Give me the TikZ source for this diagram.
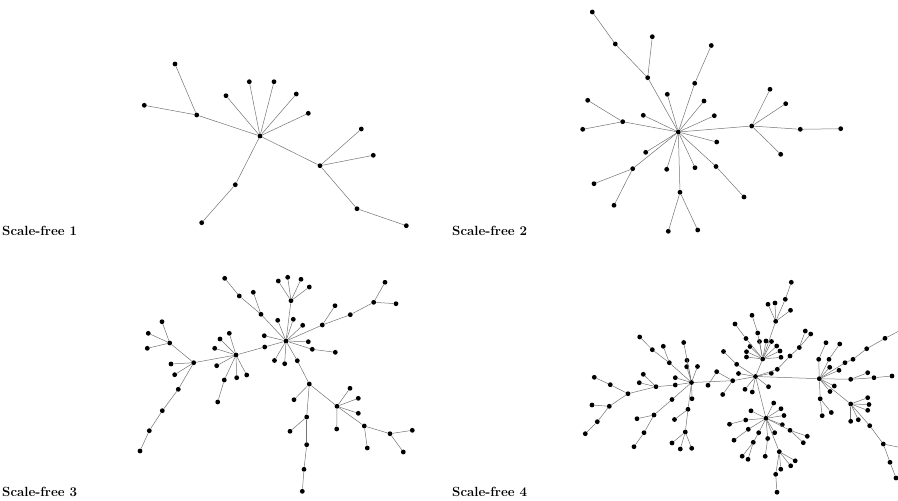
\documentclass[tikz,border=0pt]{standalone}
\begin{document}
\begin{tikzpicture}[x=1pt,y=-1pt,
  dot/.style={circle,fill=black,inner sep=0pt,minimum size=4.8pt},
  edge/.style={draw=black!55,line width=0.5pt},
  lab/.style={anchor=base west,inner sep=0pt,font=\fontsize{13.3}{16}\selectfont\bfseries}]
\useasboundingbox (0,0) rectangle (898,501);
% ---------- Scale-free 1
\node[dot] (a0) at (260,136) {};
\node[dot] (a1) at (196.7,115) {};
\node[dot] (a2) at (175,64) {};
\node[dot] (a3) at (144.3,105.3) {};
\node[dot] (a4) at (226,95.7) {};
\node[dot] (a5) at (249.3,81.7) {};
\node[dot] (a6) at (274,81.7) {};
\node[dot] (a7) at (296.3,94) {};
\node[dot] (a8) at (308.3,113.3) {};
\node[dot] (a9) at (320,165.7) {};
\node[dot] (a10) at (361.3,129) {};
\node[dot] (a11) at (373.3,155.3) {};
\node[dot] (a12) at (357,208.7) {};
\node[dot] (a13) at (406.3,225.7) {};
\node[dot] (a14) at (235.3,184.7) {};
\node[dot] (a15) at (201.7,222.7) {};
\foreach \u/\v in {a0/a1,a1/a2,a1/a3,a0/a4,a0/a5,a0/a6,a0/a7,a0/a8,a0/a9,a9/a10,a9/a11,a9/a12,a12/a13,a0/a14,a14/a15}
  \draw[edge] (\u) -- (\v);
\node[lab] (l1) at (2,235) {Scale-free 1};
% ---------- Scale-free 2
\node[dot] (b0) at (678.3,132) {};
\node[dot] (b1) at (647.7,77.7) {};
\node[dot] (b2) at (652.3,36.7) {};
\node[dot] (b3) at (615.3,44) {};
\node[dot] (b4) at (592.3,12) {};
\node[dot] (b5) at (667.3,94.3) {};
\node[dot] (b6) at (643.3,115.3) {};
\node[dot] (b7) at (622.7,121.7) {};
\node[dot] (b8) at (587.7,100.3) {};
\node[dot] (b9) at (582.7,129.3) {};
\node[dot] (b10) at (694.7,83.3) {};
\node[dot] (b11) at (711.3,45.5) {};
\node[dot] (b12) at (704,101) {};
\node[dot] (b13) at (714.3,115.7) {};
\node[dot] (b14) at (716.7,142) {};
\node[dot] (b15) at (695,167.7) {};
\node[dot] (b16) at (716,166.5) {};
\node[dot] (b17) at (744,197) {};
\node[dot] (b18) at (666.7,169.3) {};
\node[dot] (b19) at (645.7,152.3) {};
\node[dot] (b20) at (632.7,168.7) {};
\node[dot] (b21) at (594,183.7) {};
\node[dot] (b22) at (614,205.3) {};
\node[dot] (b23) at (680,192.3) {};
\node[dot] (b24) at (668.3,231.3) {};
\node[dot] (b25) at (697.7,230) {};
\node[dot] (b26) at (751.7,126) {};
\node[dot] (b27) at (770,89.3) {};
\node[dot] (b28) at (785.7,103.7) {};
\node[dot] (b29) at (780.7,154.3) {};
\node[dot] (b30) at (800.3,129.3) {};
\node[dot] (b31) at (840.7,128.7) {};
\foreach \u/\v in {b0/b1,b1/b2,b1/b3,b3/b4,b0/b5,b0/b6,b0/b7,b7/b8,b7/b9,b0/b10,b10/b11,b0/b12,b0/b13,b0/b14,b0/b15,b0/b16,b16/b17,b0/b18,b0/b19,b0/b20,b20/b21,b20/b22,b0/b23,b23/b24,b23/b25,b0/b26,b26/b27,b26/b28,b26/b29,b26/b30,b30/b31}
  \draw[edge] (\u) -- (\v);
\node[lab] (l2) at (452,235) {Scale-free 2};
% ---------- Scale-free 3
\node[dot] (c0) at (286,341) {};
\node[dot] (c1) at (291,300.7) {};
\node[dot] (c2) at (278.3,281) {};
\node[dot] (c3) at (287.7,277.3) {};
\node[dot] (c4) at (301,279.3) {};
\node[dot] (c5) at (309.3,287) {};
\node[dot] (c6) at (261,314.3) {};
\node[dot] (c7) at (239.3,296) {};
\node[dot] (c8) at (224.7,278.3) {};
\node[dot] (c9) at (253.3,292.3) {};
\node[dot] (c10) at (277.7,320.3) {};
\node[dot] (c11) at (293.3,319.3) {};
\node[dot] (c12) at (302.7,325.3) {};
\node[dot] (c13) at (308.3,341.7) {};
\node[dot] (c14) at (312.3,349.3) {};
\node[dot] (c15) at (335.3,352.3) {};
\node[dot] (c16) at (274.5,360.5) {};
\node[dot] (c17) at (284.7,363.7) {};
\node[dot] (c18) at (297.3,360.7) {};
\node[dot] (c19) at (264.3,335.7) {};
\node[dot] (c20) at (264.7,347) {};
\node[dot] (c21) at (236,355) {};
\node[dot] (c22) at (220,339) {};
\node[dot] (c23) at (229.3,333.3) {};
\node[dot] (c24) at (214.7,348.3) {};
\node[dot] (c25) at (216.7,365.7) {};
\node[dot] (c26) at (236.7,377.7) {};
\node[dot] (c27) at (246.7,375) {};
\node[dot] (c28) at (224.3,380) {};
\node[dot] (c29) at (217.7,402) {};
\node[dot] (c30) at (193.7,362.7) {};
\node[dot] (c31) at (171,364) {};
\node[dot] (c32) at (174.7,374.7) {};
\node[dot] (c33) at (178.3,389.3) {};
\node[dot] (c34) at (162.3,410.7) {};
\node[dot] (c35) at (149.3,430.7) {};
\node[dot] (c36) at (140,451) {};
\node[dot] (c37) at (169.7,343) {};
\node[dot] (c38) at (162,321.7) {};
\node[dot] (c39) at (148.3,333.3) {};
\node[dot] (c40) at (147.3,348.3) {};
\node[dot] (c41) at (322.3,325) {};
\node[dot] (c42) at (335,305.7) {};
\node[dot] (c43) at (350.3,314.7) {};
\node[dot] (c44) at (373.7,302.3) {};
\node[dot] (c45) at (385,282.3) {};
\node[dot] (c46) at (396,303.7) {};
\node[dot] (c47) at (309.3,384) {};
\node[dot] (c48) at (294,399.7) {};
\node[dot] (c49) at (306.7,417) {};
\node[dot] (c50) at (290,431.3) {};
\node[dot] (c51) at (306.7,444.7) {};
\node[dot] (c52) at (304,469.3) {};
\node[dot] (c53) at (302.3,491.3) {};
\node[dot] (c54) at (337,406.3) {};
\node[dot] (c55) at (350,388.3) {};
\node[dot] (c56) at (358.3,398.3) {};
\node[dot] (c57) at (358.3,413.3) {};
\node[dot] (c58) at (336.7,429) {};
\node[dot] (c59) at (364.3,426) {};
\node[dot] (c60) at (367.3,448) {};
\node[dot] (c61) at (390,433.7) {};
\node[dot] (c62) at (412.3,430.3) {};
\node[dot] (c63) at (403.3,452) {};
\foreach \u/\v in {c0/c1,c1/c2,c1/c3,c1/c4,c1/c5,c0/c6,c6/c7,c7/c8,c6/c9,c0/c10,c0/c11,c0/c12,c0/c13,c0/c14,c14/c15,c0/c16,c0/c17,c0/c18,c18/c47,c0/c19,c0/c20,c20/c21,c21/c22,c21/c23,c21/c24,c21/c25,c21/c26,c21/c27,c21/c28,c28/c29,c21/c30,c30/c31,c30/c32,c30/c33,c33/c34,c34/c35,c35/c36,c30/c37,c37/c38,c37/c39,c37/c40,c0/c41,c41/c42,c41/c43,c43/c44,c44/c45,c44/c46,c47/c48,c47/c49,c49/c50,c49/c51,c51/c52,c52/c53,c47/c54,c54/c55,c54/c56,c54/c57,c54/c58,c54/c59,c59/c60,c59/c61,c61/c62,c61/c63}
  \draw[edge] (\u) -- (\v);
\node[lab] (l3) at (2,496) {Scale-free 3};
% ---------- Scale-free 4
\node[dot] (d0) at (691.5,382.5) {};
\node[dot] (d1) at (594.3,377.3) {};
\node[dot] (d2) at (610.3,384.7) {};
\node[dot] (d3) at (628,393.7) {};
\node[dot] (d4) at (643.3,374.3) {};
\node[dot] (d5) at (639.3,382.7) {};
\node[dot] (d6) at (656,386.7) {};
\node[dot] (d7) at (675.3,385) {};
\node[dot] (d8) at (592,405) {};
\node[dot] (d9) at (609.3,406.3) {};
\node[dot] (d10) at (597.3,421.7) {};
\node[dot] (d11) at (585.3,433.7) {};
\node[dot] (d12) at (639.7,337) {};
\node[dot] (d13) at (652.3,349.7) {};
\node[dot] (d14) at (663.3,346.3) {};
\node[dot] (d15) at (669.3,362.7) {};
\node[dot] (d16) at (683.7,342.5) {};
\node[dot] (d17) at (687,360.3) {};
\node[dot] (d18) at (686.7,366.7) {};
\node[dot] (d19) at (697.5,366.5) {};
\node[dot] (d20) at (675.3,377.7) {};
\node[dot] (d21) at (692,398.7) {};
\node[dot] (d22) at (672,399.5) {};
\node[dot] (d23) at (654,415) {};
\node[dot] (d24) at (637,418.7) {};
\node[dot] (d25) at (644,432.7) {};
\node[dot] (d26) at (634,446.7) {};
\node[dot] (d27) at (688,409.3) {};
\node[dot] (d28) at (674.5,419.5) {};
\node[dot] (d29) at (685.3,432) {};
\node[dot] (d30) at (672,443) {};
\node[dot] (d31) at (680.3,449) {};
\node[dot] (d32) at (691.7,448.3) {};
\node[dot] (d33) at (732.7,380.7) {};
\node[dot] (d34) at (716.7,371.7) {};
\node[dot] (d35) at (708,385.3) {};
\node[dot] (d36) at (722.7,394.5) {};
\node[dot] (e0) at (755.5,376.5) {};
\node[dot] (e1) at (738.5,373.5) {};
\node[dot] (e2) at (745,389.3) {};
\node[dot] (e3) at (752.3,392) {};
\node[dot] (e4) at (768.5,386.7) {};
\node[dot] (e5) at (771.3,373.3) {};
\node[dot] (e6) at (777.3,369.3) {};
\node[dot] (e7) at (790,356) {};
\node[dot] (e8) at (799.3,347.5) {};
\node[dot] (e9) at (805.3,331) {};
\node[dot] (e10) at (810.7,334) {};
\node[dot] (e11) at (736.7,364.3) {};
\node[dot] (e12) at (723.5,351.5) {};
\node[dot] (f0) at (762.7,359) {};
\node[dot] (f1) at (746,338.5) {};
\node[dot] (f2) at (735,324) {};
\node[dot] (f3) at (757.7,333) {};
\node[dot] (f4) at (752,315.3) {};
\node[dot] (f5) at (759.5,341.5) {};
\node[dot] (f6) at (766,341) {};
\node[dot] (f7) at (771.5,341.5) {};
\node[dot] (f8) at (776.7,346) {};
\node[dot] (f9) at (780,351) {};
\node[dot] (f10) at (781,357.3) {};
\node[dot] (f11) at (750,346.5) {};
\node[dot] (f12) at (746.5,351.7) {};
\node[dot] (f13) at (746.5,357) {};
\node[dot] (f14) at (775.7,321.3) {};
\node[dot] (f15) at (768,304.3) {};
\node[dot] (f16) at (775,303) {};
\node[dot] (f17) at (790.5,310.3) {};
\node[dot] (f18) at (785.3,299.3) {};
\node[dot] (f19) at (791.3,282.3) {};
\node[dot] (g0) at (766,418.3) {};
\node[dot] (g1) at (773.7,403) {};
\node[dot] (g2) at (781,408.7) {};
\node[dot] (g3) at (784,415.5) {};
\node[dot] (g4) at (782.3,424.7) {};
\node[dot] (g5) at (790,430.3) {};
\node[dot] (g6) at (807.3,436.3) {};
\node[dot] (g7) at (803.3,442.7) {};
\node[dot] (g8) at (751,410.8) {};
\node[dot] (g9) at (745.7,420) {};
\node[dot] (g10) at (729.5,424.2) {};
\node[dot] (g11) at (748.3,429.3) {};
\node[dot] (g12) at (734,440.2) {};
\node[dot] (g13) at (758.7,432.7) {};
\node[dot] (g14) at (753.3,442.3) {};
\node[dot] (g15) at (742.2,456.2) {};
\node[dot] (g16) at (748,459.3) {};
\node[dot] (g17) at (767.7,438.5) {};
\node[dot] (g18) at (765.2,456.3) {};
\node[dot] (g19) at (774.7,432.7) {};
\node[dot] (g20) at (779.3,451.7) {};
\node[dot] (g21) at (795.2,460.8) {};
\node[dot] (g22) at (790.7,465.8) {};
\node[dot] (g23) at (780.8,469.2) {};
\node[dot] (g24) at (775.7,474.3) {};
\node[dot] (g25) at (777,492.2) {};
\node[dot] (h0) at (819.3,378.7) {};
\node[dot] (h1) at (818.7,359.3) {};
\node[dot] (h2) at (826,342.7) {};
\node[dot] (h3) at (829,359.3) {};
\node[dot] (h4) at (839.7,344) {};
\node[dot] (h5) at (829.7,367.3) {};
\node[dot] (h6) at (839,370.3) {};
\node[dot] (h7) at (845,362.7) {};
\node[dot] (h8) at (853,359.3) {};
\node[dot] (h9) at (866.7,348.7) {};
\node[dot] (h10) at (885,338.3) {};
\coordinate (h11) at (898,331.5);
\node[dot] (h12) at (850.7,379.3) {};
\node[dot] (h13) at (867.7,372.7) {};
\node[dot] (h14) at (874,377.7) {};
\node[dot] (h15) at (892,376) {};
\node[dot] (h16) at (834.3,386) {};
\node[dot] (h17) at (830,391.5) {};
\node[dot] (h18) at (820.2,398.8) {};
\node[dot] (h19) at (822.2,415.7) {};
\node[dot] (h20) at (831.3,412.5) {};
\node[dot] (h21) at (850.7,404) {};
\node[dot] (h22) at (867.7,397.7) {};
\node[dot] (h23) at (869,404.5) {};
\node[dot] (h24) at (867.7,410.3) {};
\node[dot] (h25) at (850.7,421.3) {};
\node[dot] (h26) at (858.3,419.7) {};
\node[dot] (h27) at (869.7,425.7) {};
\node[dot] (h28) at (883.3,444) {};
\node[dot] (h29) at (890,462.3) {};
\node[dot] (h30) at (896,478) {};
\coordinate (h31) at (898,447);
\foreach \u/\v in {d0/d7,d7/d6,d6/d3,d3/d2,d2/d1,d6/d4,d6/d5,d3/d9,d9/d8,d9/d10,d10/d11,d0/d15,d15/d13,d13/d12,d15/d14,d0/d16,d0/d17,d0/d18,d0/d19,d0/d20,d0/d21,d0/d22,d22/d23,d23/d24,d23/d25,d25/d26,d0/d27,d27/d28,d27/d29,d29/d30,d29/d31,d29/d32,d0/d33,d33/e0,d33/d34,d34/d35,d33/d36,e0/e1,e0/e2,e0/e3,e0/e4,e0/e5,e0/e6,e6/e7,e7/e8,e8/e9,e8/e10,e0/e11,e11/e12,e0/f0,e0/g0,e0/h0,f0/f1,f1/f2,f0/f3,f3/f4,f0/f5,f0/f6,f0/f7,f0/f8,f0/f9,f0/f10,f0/f11,f0/f12,f0/f13,f0/f14,f14/f15,f14/f16,f14/f17,f14/f18,f18/f19,g0/g1,g0/g2,g0/g3,g0/g4,g0/g5,g5/g6,g5/g7,g0/g8,g0/g9,g9/g10,g0/g11,g11/g12,g0/g13,g13/g14,g14/g15,g14/g16,g0/g17,g17/g18,g0/g19,g0/g20,g20/g21,g20/g22,g20/g23,g20/g24,g24/g25,h0/h1,h1/h2,h0/h3,h3/h4,h0/h5,h0/h6,h0/h7,h7/h8,h8/h9,h9/h10,h10/h11,h0/h12,h12/h13,h12/h14,h14/h15,h0/h16,h0/h17,h0/h18,h18/h19,h18/h20,h0/h21,h21/h22,h21/h23,h21/h24,h21/h25,h21/h26,h21/h27,h27/h28,h28/h29,h29/h30,h28/h31}
  \draw[edge] (\u) -- (\v);
\node[lab] (l4) at (452,496) {Scale-free 4};
\end{tikzpicture}
\end{document}
